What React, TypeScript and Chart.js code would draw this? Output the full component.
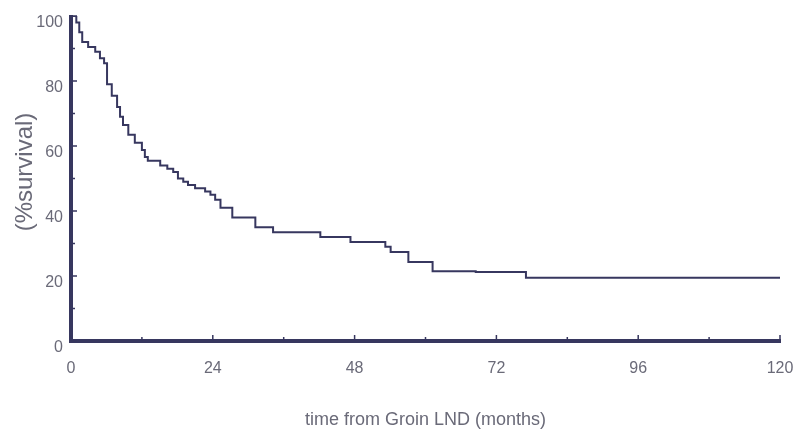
import React, { useEffect, useRef } from "react";
import { Chart, registerables } from "chart.js";

Chart.register(...registerables);

const months = [0, 0.9, 1.4, 1.9, 2.9, 4.1, 4.9, 5.6, 6.1, 6.9, 7.8, 8.3, 8.8, 9.7, 10.8, 12.0, 12.5, 13.0, 15.1, 16.3, 17.3, 18.1, 19.0, 19.8, 21.0, 22.7, 23.6, 24.4, 25.3, 27.3, 31.2, 34.2, 42.2, 47.3, 53.2, 54.1, 57.1, 61.2, 68.5, 77.0, 120];
const survival = [100, 98, 95, 92, 90.5, 89, 87, 85.5, 79, 75.5, 72, 69, 66.5, 63.5, 61, 58.8, 56.6, 55.5, 54, 53, 52, 50, 49, 48, 47, 46, 45, 43.5, 41, 38, 35, 33.5, 32, 30.5, 29, 27.4, 24.3, 21.5, 21.2, 19.5, 19.5];

const xTickValues = [0, 24, 48, 72, 96, 120];
const xMinorTicks = [12, 36, 60, 84, 108];
const yTickValues = [0, 20, 40, 60, 80, 100];
const yMinorTicks = [10, 30, 50, 70, 90];

const xTitle = "time from Groin LND (months)";
const yTitle = "(%survival)";

const AXIS_COLOR = "#37375f";
const TEXT_COLOR = "#6a6a78";
const FONT = "'Liberation Sans', Arial, sans-serif";

const axesPlugin = {
  id: "kmAxes",
  afterDatasetsDraw(chart: any) {
    const { ctx, scales } = chart;
    const xs = scales.x;
    const ys = scales.y;
    const x0 = xs.getPixelForValue(0);
    const x1 = xs.getPixelForValue(120);
    const y0 = ys.getPixelForValue(0);
    const y1 = ys.getPixelForValue(100);
    ctx.save();
    ctx.strokeStyle = AXIS_COLOR;
    ctx.lineCap = "butt";
    ctx.lineWidth = 4;
    ctx.beginPath();
    ctx.moveTo(x0, y1 - 1);
    ctx.lineTo(x0, y0 + 2);
    ctx.moveTo(x0 - 2, y0);
    ctx.lineTo(x1 + 1, y0);
    ctx.stroke();
    ctx.lineWidth = 1.5;
    ctx.beginPath();
    yTickValues.forEach((v) => {
      const p = ys.getPixelForValue(v);
      ctx.moveTo(x0, p);
      ctx.lineTo(x0 + 6, p);
    });
    yMinorTicks.forEach((v) => {
      const p = ys.getPixelForValue(v);
      ctx.moveTo(x0, p);
      ctx.lineTo(x0 + 4, p);
    });
    xTickValues.forEach((v) => {
      const p = xs.getPixelForValue(v);
      ctx.moveTo(p, y0);
      ctx.lineTo(p, y0 - 6);
    });
    xMinorTicks.forEach((v) => {
      const p = xs.getPixelForValue(v);
      ctx.moveTo(p, y0);
      ctx.lineTo(p, y0 - 4);
    });
    ctx.stroke();
    // y-axis title
    ctx.translate(25, 172);
    ctx.rotate(-Math.PI / 2);
    ctx.fillStyle = TEXT_COLOR;
    ctx.font = `24px ${FONT}`;
    ctx.textAlign = "center";
    ctx.textBaseline = "middle";
    ctx.fillText(yTitle, 0, 0);
    ctx.restore();
  },
};

export default function App() {
  const ref = useRef<HTMLCanvasElement | null>(null);
  useEffect(() => {
    document.body.style.margin = "0";
    const canvas = ref.current;
    if (!canvas) return;
    const chart = new Chart(canvas, {
      type: "line",
      data: {
        datasets: [
          {
            data: months.map((m, i) => ({ x: m, y: survival[i] })),
            borderColor: AXIS_COLOR,
            borderWidth: 2,
            pointRadius: 0,
            stepped: "before",
            fill: false,
          },
        ],
      },
      options: {
        responsive: false,
        animation: false,
        layout: { padding: { left: 0, top: 16, right: 13, bottom: 0 } },
        plugins: { legend: { display: false }, tooltip: { enabled: false } },
        scales: {
          x: {
            type: "linear",
            min: 0,
            max: 120,
            afterFit: (s: any) => {
              s.height = 88;
              s.paddingLeft = 0;
              s.paddingRight = 0;
            },
            afterBuildTicks: (s: any) => {
              s.ticks = xTickValues.map((v) => ({ value: v }));
            },
            grid: { display: false, drawTicks: false },
            border: { display: false },
            ticks: {
              padding: 18,
              color: TEXT_COLOR,
              font: { family: FONT, size: 16 },
              maxRotation: 0,
            },
            title: {
              display: true,
              text: xTitle,
              color: TEXT_COLOR,
              font: { family: FONT, size: 18 },
              padding: { top: 0, bottom: -2 },
            },
          },
          y: {
            type: "linear",
            min: 0,
            max: 100,
            afterFit: (s: any) => {
              s.width = 71;
              s.paddingTop = 0;
              s.paddingBottom = 0;
            },
            afterBuildTicks: (s: any) => {
              s.ticks = yTickValues.map((v) => ({ value: v }));
            },
            grid: { display: false, drawTicks: false },
            border: { display: false },
            ticks: {
              padding: 8,
              labelOffset: 7,
              color: TEXT_COLOR,
              font: { family: FONT, size: 16 },
            },
          },
        },
      },
      plugins: [axesPlugin],
    });
    return () => chart.destroy();
  }, []);
  return (
    <div style={{ position: "absolute", left: 0, top: 0, width: 793, height: 429 }}>
      <canvas ref={ref} width={793} height={429} style={{ width: 793, height: 429 }} />
    </div>
  );
}
